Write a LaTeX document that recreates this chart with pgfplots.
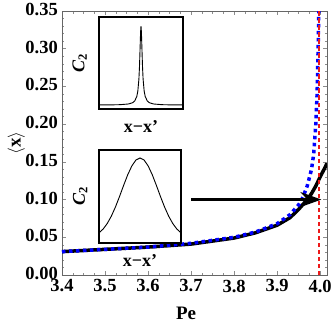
\documentclass[border=0pt]{standalone}
\usepackage{fontspec}
\setmainfont{Liberation Serif}
\usepackage{pgfplots}
\pgfplotsset{compat=1.18}
\usetikzlibrary{arrows.meta}
\definecolor{redline}{rgb}{0.93,0.1,0.1}

\pgfplotsset{
  inset/.style={
    scale only axis,
    xmin=-1,xmax=1,ymin=0,ymax=1,
    ticks=none,
    axis line style={black,line width=1.5pt},
    clip=false,
  },
}

\begin{document}
\begin{tikzpicture}
\begin{axis}[
  name=main,
  at={(0,0)},anchor=south west,
  scale only axis,
  width=265pt,height=264pt,
  xmin=3.4,xmax=4.016,ymin=0,ymax=0.35,
  xtick={3.4,3.5,...,4.0},
  ytick={0,0.05,...,0.35},
  minor x tick num=3,
  minor y tick num=4,
  tick align=inside,
  major tick length=4pt,minor tick length=2.5pt,
  tick style={black!45,line width=0.5pt},
  axis line style={black!60,line width=0.6pt},
  /pgf/number format/assume math mode=true,
  tick label style={font=\fontsize{18.5}{18.5}\selectfont\bfseries,inner sep=2pt},
  xticklabel style={yshift=-2.5pt,/pgf/number format/.cd,fixed,fixed zerofill,precision=1},
  yticklabel style={xshift=-2pt,yshift=1.5pt,/pgf/number format/.cd,fixed,fixed zerofill,precision=2},
  xlabel={\textbf{Pe}},
  ylabel={$\langle$\textbf{x}$\rangle$},
  label style={font=\fontsize{19}{19}\selectfont},
  xlabel style={at={(axis description cs:0.468,-0.144)},anchor=center},
  ylabel style={at={(axis description cs:-0.172,0.5)},anchor=center},
]
% full curve (black) and approximation (blue dotted)
\addplot[black,line width=3.5pt] coordinates {
  (3.40,0.031) (3.50,0.034) (3.60,0.037) (3.70,0.041) (3.80,0.049)
  (3.85,0.056) (3.90,0.066) (3.93,0.076) (3.95,0.087) (3.97,0.100)
  (3.98,0.108) (3.99,0.118) (4.00,0.130) (4.01,0.141) (4.016,0.148)};
\addplot[blue,line width=3.5pt,dash pattern=on 3.5pt off 3.5pt] coordinates {
  (3.40,0.031) (3.50,0.034) (3.60,0.037) (3.70,0.042) (3.80,0.050)
  (3.85,0.057) (3.90,0.068) (3.93,0.080) (3.95,0.093) (3.96,0.103)
  (3.97,0.118) (3.98,0.140) (3.985,0.160) (3.99,0.200) (3.993,0.240)
  (3.995,0.290) (3.997,0.350)};
\addplot[draw=redline,line width=1.7pt,dash pattern=on 4.5pt off 2.5pt] coordinates {(3.998,0) (3.998,0.35)};
\addplot[draw=black,line width=2.2pt,-{Stealth[length=21pt,width=15pt,inset=7pt]}] coordinates {(3.70,0.10) (4.003,0.10)};
\end{axis}

% upper inset: sharp peak
\begin{axis}[inset,at={(37pt,166pt)},anchor=south west,width=84pt,height=92pt]
\addplot[black,line width=0.9pt] coordinates {
  (-1,0.044) (-0.7,0.045) (-0.5,0.047) (-0.3,0.0545) (-0.2,0.068)
  (-0.15,0.087) (-0.1,0.136) (-0.075,0.196) (-0.05,0.325) (-0.035,0.4715)
  (-0.02,0.689) (-0.01,0.835) (0,0.9) (0.01,0.835) (0.02,0.689)
  (0.035,0.4715) (0.05,0.325) (0.075,0.196) (0.1,0.136) (0.15,0.087)
  (0.2,0.068) (0.3,0.0545) (0.5,0.047) (0.7,0.045) (1,0.044)};
\node[rotate=90,font=\fontsize{18}{18}\selectfont\bfseries\itshape] at (rel axis cs:-0.23,0.5) {C\textsubscript{\upshape 2}};
\node[font=\fontsize{18}{18}\selectfont\bfseries] at (rel axis cs:0.5,-0.19) {x−x'};
\end{axis}

% lower inset: broad peak
\begin{axis}[inset,at={(37pt,32pt)},anchor=south west,width=82pt,height=93pt]
\addplot[black,line width=0.9pt] coordinates {
  (-1,0.108) (-0.9,0.150) (-0.8,0.209) (-0.7,0.288) (-0.6,0.386)
  (-0.5,0.499) (-0.4,0.619) (-0.3,0.733) (-0.2,0.828) (-0.1,0.892)
  (0,0.914) (0.1,0.892) (0.2,0.828) (0.3,0.733) (0.4,0.619)
  (0.5,0.499) (0.6,0.386) (0.7,0.288) (0.8,0.209) (0.9,0.150) (1,0.108)};
\node[rotate=90,font=\fontsize{18}{18}\selectfont\bfseries\itshape] at (rel axis cs:-0.23,0.5) {C\textsubscript{\upshape 2}};
\node[font=\fontsize{18}{18}\selectfont\bfseries] at (rel axis cs:0.5,-0.19) {x−x'};
\end{axis}

\pgfresetboundingbox
\path[use as bounding box] (-62pt,-52pt) rectangle (270pt,275pt);
\end{tikzpicture}
\end{document}
